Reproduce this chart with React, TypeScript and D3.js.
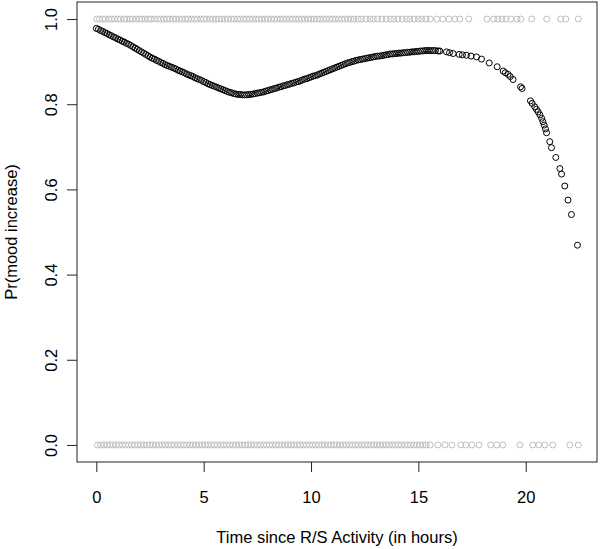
import { useLayoutEffect, useRef } from 'react'
import * as d3 from 'd3'

// observed outcomes: hours since activity, split by mood increase (1) / no increase (0)
const increasedHours = [
  0.02, 0.15, 0.3, 0.42, 0.58, 0.71, 0.85, 1.0, 1.13, 1.29, 1.41, 1.57, 1.7, 1.86, 2.0, 2.12, 2.28, 2.43,
  2.55, 2.71, 2.86, 3.0, 3.14, 3.29, 3.42, 3.58, 3.71, 3.86, 4.0, 4.15, 4.28, 4.43, 4.57, 4.7, 4.86, 5.0,
  5.13, 5.29, 5.43, 5.57, 5.71, 5.85, 6.0, 6.14, 6.29, 6.42, 6.57, 6.71, 6.86, 7.0, 7.14, 7.28, 7.43, 7.57,
  7.71, 7.86, 8.0, 8.15, 8.29, 8.42, 8.57, 8.71, 8.85, 9.0, 9.14, 9.29, 9.43, 9.57, 9.71, 9.86, 10.0, 10.14,
  10.29, 10.43, 10.57, 10.71, 10.86, 11.0, 11.14, 11.29, 11.43, 11.57, 11.71, 11.86, 12.0, 12.2, 12.35,
  12.55, 12.75, 12.9, 13.1, 13.3, 13.5, 13.7, 13.85, 14.05, 14.25, 14.45, 14.6, 14.8, 15.0, 15.15, 15.35,
  15.55, 15.86, 16.14, 16.42, 16.7, 16.93, 17.35, 18.19, 18.51, 18.7, 18.89, 19.08, 19.31, 19.59, 19.77,
  20.28, 20.98, 21.63, 21.87, 22.45,
]

const notIncreasedHours = [
  0.05, 0.2, 0.35, 0.5, 0.64, 0.78, 0.93, 1.07, 1.22, 1.36, 1.5, 1.65, 1.79, 1.93, 2.07, 2.21, 2.36, 2.5,
  2.64, 2.79, 2.93, 3.07, 3.21, 3.36, 3.5, 3.64, 3.79, 3.93, 4.07, 4.21, 4.36, 4.5, 4.64, 4.79, 4.93, 5.07,
  5.21, 5.36, 5.5, 5.64, 5.79, 5.93, 6.07, 6.21, 6.36, 6.5, 6.64, 6.79, 6.93, 7.07, 7.21, 7.36, 7.5, 7.64,
  7.79, 7.93, 8.07, 8.21, 8.36, 8.5, 8.64, 8.79, 8.93, 9.07, 9.21, 9.36, 9.5, 9.64, 9.79, 9.93, 10.07,
  10.21, 10.36, 10.5, 10.64, 10.79, 10.93, 11.07, 11.21, 11.36, 11.5, 11.64, 11.79, 11.93, 12.07, 12.21,
  12.36, 12.5, 12.64, 12.79, 12.93, 13.07, 13.21, 13.36, 13.5, 13.64, 13.79, 13.93, 14.07, 14.21, 14.36,
  14.5, 14.64, 14.79, 14.93, 15.07, 15.21, 15.36, 15.55, 15.91, 16.24, 16.56, 16.98, 17.21, 17.49, 17.82,
  18.37, 18.65, 18.93, 19.73, 20.33, 20.61, 20.89, 21.26, 22.05, 22.45,
]

// fitted probabilities, read at each observation
const fitHours = [
  0, 0.2, 0.4, 0.6, 0.8, 1.0, 1.2, 1.4, 1.6, 1.8, 2.0, 2.2, 2.4, 2.6, 2.8, 3.0, 3.2, 3.4, 3.6, 3.8,
  4.0, 4.2, 4.4, 4.6, 4.8, 5.0, 5.2, 5.4, 5.6, 5.8, 6.0, 6.2, 6.4, 6.6, 6.8, 7.0, 7.2, 7.4, 7.6, 7.8,
  8.0, 8.2, 8.4, 8.6, 8.8, 9.0, 9.2, 9.4, 9.6, 9.8, 10.0, 10.2, 10.4, 10.6, 10.8, 11.0, 11.2, 11.4, 11.6, 11.8,
  12.0, 12.2, 12.4, 12.6, 12.8, 13.0, 13.2, 13.4, 13.6, 13.8, 14.0, 14.2, 14.4, 14.6, 14.8, 15.0, 15.2, 15.4,
  15.6, 15.8, 15.92, 16.0, 16.31, 16.45, 16.62, 16.9, 17.05, 17.24, 17.45, 17.71, 17.94, 18.3, 18.67, 18.95,
  19.05, 19.18, 19.28, 19.41, 19.76, 19.83, 20.22, 20.3, 20.42, 20.5, 20.58, 20.66, 20.74, 20.8, 20.86,
  20.92, 20.97, 21.12, 21.2, 21.4, 21.59, 21.67, 21.82, 21.97, 22.13, 22.41,
]

const fitProb = [
  0.978, 0.973, 0.968, 0.963, 0.958, 0.953, 0.948, 0.943, 0.938, 0.932,
  0.926, 0.92, 0.914, 0.908, 0.903, 0.898, 0.893, 0.889, 0.885, 0.88,
  0.876, 0.871, 0.867, 0.862, 0.858, 0.853, 0.848, 0.844, 0.84, 0.836,
  0.832, 0.828, 0.825, 0.823, 0.822, 0.822, 0.823, 0.825, 0.827, 0.829,
  0.832, 0.835, 0.838, 0.841, 0.844, 0.847, 0.85, 0.853, 0.857, 0.86,
  0.864, 0.867, 0.871, 0.875, 0.879, 0.883, 0.887, 0.891, 0.895, 0.898,
  0.901, 0.904, 0.906, 0.908, 0.91, 0.912, 0.913, 0.915, 0.917, 0.918,
  0.919, 0.92, 0.921, 0.922, 0.923, 0.924, 0.925, 0.926, 0.926, 0.926,
  0.925, 0.925, 0.923, 0.921, 0.919, 0.917, 0.916, 0.915, 0.913, 0.911, 0.906, 0.897, 0.888, 0.878,
  0.874, 0.87, 0.865, 0.858, 0.841, 0.837, 0.808, 0.802, 0.794, 0.788, 0.782, 0.775, 0.767, 0.759, 0.751,
  0.742, 0.733, 0.712, 0.698, 0.675, 0.649, 0.636, 0.608, 0.575, 0.541, 0.469,
]

// more fitted values in the dense part of the curve
const fitHoursMid = [
  0.1, 0.3, 0.5, 0.7, 0.9, 1.1, 1.3, 1.5, 1.7, 1.9, 2.1, 2.3, 2.5, 2.7, 2.9, 3.1, 3.3, 3.5, 3.7, 3.9,
  4.1, 4.3, 4.5, 4.7, 4.9, 5.1, 5.3, 5.5, 5.7, 5.9, 6.1, 6.3, 6.5, 6.7, 6.9, 7.1, 7.3, 7.5, 7.7, 7.9,
  8.1, 8.3, 8.5, 8.7, 8.9, 9.1, 9.3, 9.5, 9.7, 9.9, 10.1, 10.3, 10.5, 10.7, 10.9, 11.1, 11.3, 11.5, 11.7, 11.9,
  12.1, 12.3, 12.5, 12.7, 12.9, 13.1, 13.3, 13.5, 13.7, 13.9, 14.1, 14.3, 14.5, 14.7, 14.9, 15.1, 15.3, 15.5,
  15.7,
]

const fitProbMid = [
  0.976, 0.971, 0.966, 0.961, 0.956, 0.951, 0.946, 0.941, 0.935, 0.929,
  0.923, 0.917, 0.911, 0.906, 0.901, 0.896, 0.891, 0.887, 0.883, 0.878,
  0.874, 0.869, 0.865, 0.86, 0.856, 0.851, 0.846, 0.842, 0.838, 0.834,
  0.83, 0.827, 0.824, 0.823, 0.822, 0.823, 0.824, 0.826, 0.828, 0.831,
  0.834, 0.837, 0.84, 0.843, 0.846, 0.849, 0.852, 0.855, 0.859, 0.862,
  0.866, 0.869, 0.873, 0.877, 0.881, 0.885, 0.889, 0.893, 0.897, 0.9,
  0.903, 0.905, 0.907, 0.909, 0.911, 0.913, 0.914, 0.916, 0.918, 0.919,
  0.92, 0.921, 0.922, 0.923, 0.924, 0.925, 0.926, 0.926, 0.926,
]

const xTicks = [0, 5, 10, 15, 20]
const yTicks = [0, 0.2, 0.4, 0.6, 0.8, 1.0]

const FONT = '"Liberation Sans", Arial, Helvetica, sans-serif'

function ScatterFit({ width = 601, height = 549 }) {
  const ref = useRef<HTMLDivElement>(null)

  useLayoutEffect(() => {
    if (!ref.current) return
    const el = ref.current
    el.innerHTML = ''

    const box = { left: 77, right: 597, top: 2, bottom: 462 }

    const x = d3.scaleLinear().domain([-0.9, 23.32]).range([box.left, box.right])
    const y = d3.scaleLinear().domain([-0.04, 1.04]).range([box.bottom, box.top])

    const svg = d3
      .select(el)
      .append('svg')
      .attr('width', width)
      .attr('height', height)
      .style('display', 'block')
      .attr('font-family', FONT)

    svg.append('rect').attr('width', width).attr('height', height).attr('fill', '#fff')

    const r = 3
    const gray = svg.append('g').attr('fill', 'none').attr('stroke', '#c0c0c0').attr('stroke-width', 1)
    gray
      .selectAll('circle.one')
      .data(increasedHours)
      .join('circle')
      .attr('class', 'one')
      .attr('cx', (d) => x(d))
      .attr('cy', y(1))
      .attr('r', r)
    gray
      .selectAll('circle.zero')
      .data(notIncreasedHours)
      .join('circle')
      .attr('class', 'zero')
      .attr('cx', (d) => x(d))
      .attr('cy', y(0))
      .attr('r', r)

    const fitted = [
      ...fitHours.map((h, i) => [h, fitProb[i]]),
      ...fitHoursMid.map((h, i) => [h, fitProbMid[i]]),
    ]

    svg
      .append('g')
      .attr('fill', 'none')
      .attr('stroke', '#000')
      .attr('stroke-width', 1)
      .selectAll('circle')
      .data(fitted)
      .join('circle')
      .attr('cx', (d) => x(d[0]))
      .attr('cy', (d) => y(d[1]))
      .attr('r', r)

    // box
    svg
      .append('rect')
      .attr('x', box.left)
      .attr('y', box.top)
      .attr('width', box.right - box.left)
      .attr('height', box.bottom - box.top)
      .attr('fill', 'none')
      .attr('stroke', '#222')
      .attr('stroke-width', 1)

    const fontSize = 16.5

    svg
      .append('g')
      .attr('transform', `translate(0,${box.bottom})`)
      .call(d3.axisBottom(x).tickValues(xTicks).tickSize(10).tickPadding(19.5).tickFormat(d3.format('d')))
      .call((sel) => sel.select('.domain').remove())
      .call((sel) => sel.selectAll('.tick line').attr('stroke', '#222'))
      .call((sel) =>
        sel.selectAll('text').attr('fill', '#000').attr('font-size', fontSize).attr('font-family', FONT)
      )

    svg
      .append('g')
      .attr('transform', `translate(${box.left},0)`)
      .call(d3.axisLeft(y).tickValues(yTicks).tickSize(10).tickFormat(d3.format('.1f')))
      .call((sel) => sel.select('.domain').remove())
      .call((sel) => sel.selectAll('.tick line').attr('stroke', '#222'))
      .call((sel) =>
        sel
          .selectAll('text')
          .attr('x', 0)
          .attr('y', 0)
          .attr('dy', 0)
          .attr('text-anchor', 'middle')
          .attr('transform', 'translate(-20,0) rotate(-90)')
          .attr('fill', '#000')
          .attr('font-size', fontSize)
          .attr('font-family', FONT)
      )

    svg
      .append('text')
      .attr('x', (box.left + box.right) / 2)
      .attr('y', 543)
      .attr('text-anchor', 'middle')
      .attr('font-size', fontSize)
      .attr('fill', '#000')
      .text('Time since R/S Activity (in hours)')

    svg
      .append('text')
      .attr('transform', `translate(17,${(box.top + box.bottom) / 2}) rotate(-90)`)
      .attr('text-anchor', 'middle')
      .attr('font-size', fontSize)
      .attr('fill', '#000')
      .text('Pr(mood increase)')
  }, [width, height])

  return <div ref={ref} style={{ position: 'absolute', left: 0, top: 0 }} />
}

export default function App() {
  return <ScatterFit />
}
